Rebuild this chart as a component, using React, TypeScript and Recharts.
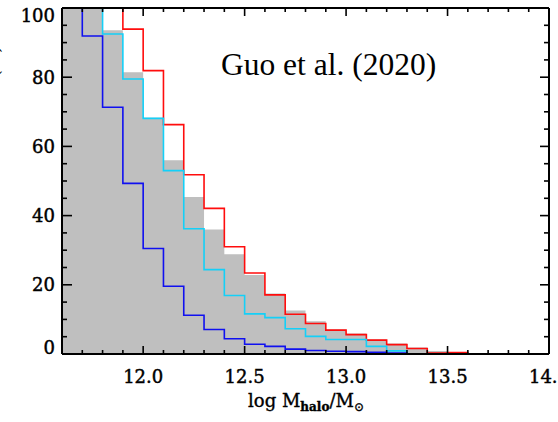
import React from 'react';
import { ComposedChart, Area, Line, XAxis, YAxis, ReferenceLine } from 'recharts';

// bin edges (log M_halo), width 0.1
const binEdges = [11.6, 11.7, 11.8, 11.9, 12.0, 12.1, 12.2, 12.3, 12.4, 12.5, 12.6, 12.7, 12.8, 12.9, 13.0, 13.1, 13.2, 13.3, 13.4, 13.5, 13.6];

// grey filled histogram
const greyValues = [100, 100, 93.6, 81.4, 68.3, 56.0, 45.4, 36.0, 28.8, 22.8, 17.5, 12.6, 9.5, 7.1, 5.9, 4.2, 3.0, 1.9, 0.9, 0.5];
// red outline histogram
const redValues = [100, 100, 100, 93.9, 81.9, 66.3, 51.8, 42.1, 31.0, 23.4, 17.1, 11.5, 8.8, 6.9, 5.6, 4.0, 2.7, 1.6, 0.3, 0.4];
// cyan outline histogram
const cyanValues = [100, 100, 92.5, 79.5, 68.1, 53.0, 36.2, 24.4, 16.9, 11.6, 10.5, 7.3, 5.1, 4.2, 4.2, 2.2, 0.9];
// blue outline histogram
const blueValues = [100, 91.9, 71.3, 49.3, 30.5, 19.6, 11.2, 7.1, 4.4, 2.8, 2.2, 1.4, 1.0, 0.8, 0.7, 0.5, 0.3];

const xTicks = [11.6, 11.7, 11.8, 11.9, 12.0, 12.1, 12.2, 12.3, 12.4, 12.5, 12.6, 12.7, 12.8, 12.9, 13.0, 13.1, 13.2, 13.3, 13.4, 13.5, 13.6, 13.7, 13.8, 13.9, 14.0];
const xLabelTicks = [12.0, 12.5, 13.0, 13.5, 14.0];
const yTicks = [0, 5, 10, 15, 20, 25, 30, 35, 40, 45, 50, 55, 60, 65, 70, 75, 80, 85, 90, 95, 100];
const yLabelTicks = [0, 20, 40, 60, 80, 100];

const annotation = 'Guo et al. (2020)';
const yTitle = 'Fraction (%)';

const W = 558;
const H = 422;
const PLOT = { left: 62, right: 549, top: 8, bottom: 354 };
const FONT = '"DejaVu Serif", serif';

function toSteps(vals: number[]) {
  const pts = vals.map((v, i) => ({ x: binEdges[i], v }));
  pts.push({ x: binEdges[vals.length], v: 0 });
  return pts;
}

const greyData = toSteps(greyValues);
const redData = toSteps(redValues);
const cyanData = toSteps(cyanValues);
const blueData = toSteps(blueValues);

const isLabelX = (v: number) => xLabelTicks.some((t) => Math.abs(t - v) < 1e-6);
const isLabelY = (v: number) => yLabelTicks.some((t) => Math.abs(t - v) < 1e-6);

const BottomTick = (props: any) => {
  const { x, payload } = props;
  const v = payload.value as number;
  const major = isLabelX(v);
  const len = major ? 8 : 4;
  return (
    <g>
      <line x1={x} x2={x} y1={PLOT.bottom} y2={PLOT.bottom - len} stroke="#000" strokeWidth={1.6} />
      <line x1={x} x2={x} y1={PLOT.top} y2={PLOT.top + len} stroke="#000" strokeWidth={1.6} />
      {major && (
        <text x={x} y={383} textAnchor="middle" fontFamily={FONT} fontSize={18} fill="#000" stroke="#000" strokeWidth={0.45}>
          {v.toFixed(1)}
        </text>
      )}
    </g>
  );
};

const LeftTick = (props: any) => {
  const { y, payload } = props;
  const v = payload.value as number;
  const major = isLabelY(v);
  let dy = 6.5;
  if (v === 0) dy -= 7;
  if (v === 100) dy += 7;
  return (
    <g>
      <line x1={PLOT.left} x2={PLOT.left + (major ? 10 : 5)} y1={y} y2={y} stroke="#000" strokeWidth={1.6} />
      <line x1={PLOT.right} x2={PLOT.right - (major ? 9 : 5)} y1={y} y2={y} stroke="#000" strokeWidth={1.6} />
      {major && (
        <text x={55} y={y + dy} textAnchor="end" fontFamily={FONT} fontSize={18} fill="#000" stroke="#000" strokeWidth={0.45}>
          {v}
        </text>
      )}
    </g>
  );
};

export default function App() {
  return (
    <div style={{ position: 'absolute', left: 0, top: 0, width: W, height: H, background: '#fff' }}>
      <ComposedChart width={W} height={H} margin={{ top: PLOT.top, right: W - PLOT.right, bottom: 0, left: 0 }}>
        <XAxis
          type="number"
          dataKey="x"
          domain={[11.6, 14.0]}
          allowDataOverflow
          ticks={xTicks}
          interval={0}
          height={H - PLOT.bottom}
          tickLine={false}
          axisLine={{ stroke: '#000', strokeWidth: 2 }}
          tick={<BottomTick />}
        />
        <YAxis
          type="number"
          domain={[0, 100]}
          allowDataOverflow
          ticks={yTicks}
          interval={0}
          width={PLOT.left}
          tickLine={false}
          axisLine={{ stroke: '#000', strokeWidth: 2 }}
          tick={<LeftTick />}
        />
        <Area data={greyData} dataKey="v" type="stepAfter" fill="#bfbfbf" fillOpacity={1} stroke="none" isAnimationActive={false} />
        <Line data={redData} dataKey="v" type="stepAfter" stroke="#ff0d0d" strokeWidth={1.6} dot={false} isAnimationActive={false} />
        <Line data={cyanData} dataKey="v" type="stepAfter" stroke="#14d0f8" strokeWidth={1.6} dot={false} isAnimationActive={false} />
        <Line data={blueData} dataKey="v" type="stepAfter" stroke="#1010f0" strokeWidth={1.6} dot={false} isAnimationActive={false} />
        <ReferenceLine y={100} stroke="#000" strokeWidth={2} />
        <ReferenceLine x={14.0} stroke="#000" strokeWidth={2} />
      </ComposedChart>
      <svg width={W} height={H} style={{ position: 'absolute', left: 0, top: 0, pointerEvents: 'none', overflow: 'hidden' }}>
        <text x={221} y={75} fontFamily='"Liberation Serif", "Times New Roman", serif' fontSize={31.5} fill="#000">
          {annotation}
        </text>
        <text x={306} y={407} textAnchor="middle" fontFamily={FONT} fontSize={18} fill="#000" stroke="#000" strokeWidth={0.35}>
          <tspan>log  M</tspan>
          <tspan dy={4} fontSize={12} fontWeight="bold">halo</tspan>
          <tspan dy={-4}>/M</tspan>
          <tspan dy={4} fontSize={12}>⊙</tspan>
        </text>
        <text transform="rotate(-90)" x={-46} y={-0.8} textAnchor="end" fontFamily={FONT} fontSize={18} fill="#000">
          {yTitle}
        </text>
      </svg>
    </div>
  );
}
